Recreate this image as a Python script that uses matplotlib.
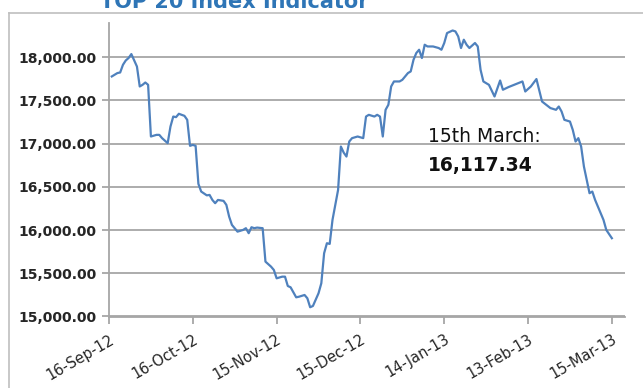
import matplotlib
matplotlib.use("Agg")
import matplotlib.pyplot as plt
import matplotlib.dates as mdates
from matplotlib.lines import Line2D
import pandas as pd

title_text = "TOP 20 Index Indicator"
annot_line1 = "15th March:"
annot_line2 = "16,117.34"

dates = [
    "2012-09-17", "2012-09-19", "2012-09-20", "2012-09-21", "2012-09-22", "2012-09-23", "2012-09-24",
    "2012-09-26", "2012-09-27", "2012-09-28", "2012-09-29", "2012-09-30", "2012-10-01", "2012-10-03",
    "2012-10-04", "2012-10-05", "2012-10-07", "2012-10-08", "2012-10-09", "2012-10-10", "2012-10-11",
    "2012-10-13", "2012-10-14", "2012-10-15", "2012-10-16", "2012-10-17", "2012-10-18", "2012-10-19",
    "2012-10-21", "2012-10-22", "2012-10-23", "2012-10-24", "2012-10-25", "2012-10-27", "2012-10-28",
    "2012-10-29", "2012-10-30", "2012-11-01", "2012-11-03", "2012-11-04", "2012-11-05", "2012-11-06",
    "2012-11-07", "2012-11-08", "2012-11-10", "2012-11-11", "2012-11-13", "2012-11-14", "2012-11-15",
    "2012-11-17", "2012-11-18", "2012-11-19", "2012-11-20", "2012-11-22", "2012-11-23", "2012-11-25",
    "2012-11-26", "2012-11-27", "2012-11-28", "2012-11-30", "2012-12-01", "2012-12-02", "2012-12-03",
    "2012-12-04", "2012-12-05", "2012-12-07", "2012-12-08", "2012-12-09", "2012-12-10", "2012-12-11",
    "2012-12-12", "2012-12-14", "2012-12-16", "2012-12-17", "2012-12-18", "2012-12-20", "2012-12-21",
    "2012-12-22", "2012-12-23", "2012-12-24", "2012-12-25", "2012-12-26", "2012-12-27", "2012-12-29",
    "2012-12-30", "2013-01-01", "2013-01-02", "2013-01-03", "2013-01-04", "2013-01-05", "2013-01-06",
    "2013-01-07", "2013-01-08", "2013-01-10", "2013-01-12", "2013-01-13", "2013-01-14", "2013-01-15",
    "2013-01-17", "2013-01-18", "2013-01-19", "2013-01-20", "2013-01-21", "2013-01-22", "2013-01-23",
    "2013-01-25", "2013-01-26", "2013-01-27", "2013-01-28", "2013-01-30", "2013-02-01", "2013-02-03",
    "2013-02-04", "2013-02-06", "2013-02-08", "2013-02-11", "2013-02-12", "2013-02-14", "2013-02-16",
    "2013-02-18", "2013-02-21", "2013-02-23", "2013-02-24", "2013-02-25", "2013-02-26", "2013-02-28",
    "2013-03-01", "2013-03-02", "2013-03-03", "2013-03-04", "2013-03-05", "2013-03-07", "2013-03-08",
    "2013-03-09", "2013-03-11", "2013-03-12", "2013-03-13", "2013-03-15",
]
values = [
    17778, 17817, 17824, 17913, 17963, 17991, 18037,
    17893, 17662, 17681, 17708, 17681, 17083, 17102,
    17102, 17064, 17006, 17198, 17314, 17307, 17346,
    17322, 17276, 16975, 16986, 16975, 16535, 16446,
    16402, 16407, 16349, 16311, 16349, 16338, 16292,
    16156, 16060, 15982, 16002, 16022, 15964, 16033,
    16022, 16029, 16022, 15635, 15577, 15539, 15442,
    15461, 15461, 15353, 15338, 15222, 15229, 15249,
    15211, 15107, 15122, 15269, 15385, 15732, 15848,
    15840, 16118, 16465, 16967, 16897, 16851, 17025,
    17064, 17083, 17064, 17314, 17334, 17314, 17334,
    17314, 17083, 17392, 17450, 17662, 17720, 17720,
    17739, 17817, 17836, 17971, 18049, 18087, 17991,
    18145, 18125, 18125, 18107, 18087, 18165, 18280,
    18310, 18299, 18241, 18107, 18203, 18145, 18107,
    18165, 18125, 17855, 17720, 17681, 17546, 17731,
    17624, 17655, 17681, 17720, 17604, 17662, 17748,
    17488, 17412, 17392, 17430, 17372, 17276, 17256,
    17160, 17025, 17064, 16967, 16735, 16427, 16446,
    16349, 16195, 16118, 16002, 15906,
]
tick_dates = ["2012-09-16", "2012-10-16", "2012-11-15", "2012-12-15",
              "2013-01-14", "2013-02-13", "2013-03-15"]
y_ticks = [15000, 15500, 16000, 16500, 17000, 17500, 18000]

W, H = 643, 388
fig = plt.figure(figsize=(W / 100, H / 100), dpi=100)
fig.patch.set_facecolor("white")

ax = fig.add_axes([109 / W, 1 - 316.5 / H, (625 - 109) / W, (316.5 - 22.7) / H])

x = pd.to_datetime(dates)
ax.plot(x, values, color="#4F81BD", lw=1.6, solid_joinstyle="round", zorder=3)

x0 = pd.Timestamp("2012-09-16")
ax.set_xlim(x0, x0 + pd.Timedelta(days=184.7))
ax.set_ylim(15000, 18400)

ax.set_yticks(y_ticks)
ax.set_yticklabels([f"{v:,.2f}" for v in y_ticks], fontsize=10, fontweight="bold",
                   color="#262626", family="DejaVu Sans")
ax.set_xticks(pd.to_datetime(tick_dates))
ax.set_xticklabels([pd.Timestamp(d).strftime("%d-%b-%y") for d in tick_dates],
                   rotation=30, ha="right", va="top", rotation_mode="anchor",
                   fontsize=10.5, color="#262626")

ax.grid(axis="y", color="#A6A6A6", lw=1.3)
ax.set_axisbelow(True)
for s in ["top", "right"]:
    ax.spines[s].set_visible(False)
for s in ["left", "bottom"]:
    ax.spines[s].set_color("#A6A6A6")
    ax.spines[s].set_linewidth(1.3)
ax.tick_params(axis="both", direction="out", length=5, width=1.3, color="#A6A6A6")
ax.tick_params(axis="y", pad=4)
ax.tick_params(axis="x", pad=6)

fig.text(428 / W, 1 - 142 / H, annot_line1, fontsize=13.5, color="#111111",
         ha="left", va="baseline")
fig.text(428 / W, 1 - 171 / H, annot_line2, fontsize=13.5, fontweight="bold",
         color="#111111", ha="left", va="baseline")

fig.text(100 / W, 1 - 8 / H, title_text, fontsize=15, fontweight="bold",
         color="#2E75B6", ha="left", va="baseline")

fig.add_artist(Line2D([9 / W, 9 / W], [0, 1 - 13 / H], color="#BFBFBF", lw=1.2))
fig.add_artist(Line2D([9 / W, 1], [1 - 13 / H, 1 - 13 / H], color="#BFBFBF", lw=1.2))

fig.savefig("out.png", dpi=100, facecolor="white")
